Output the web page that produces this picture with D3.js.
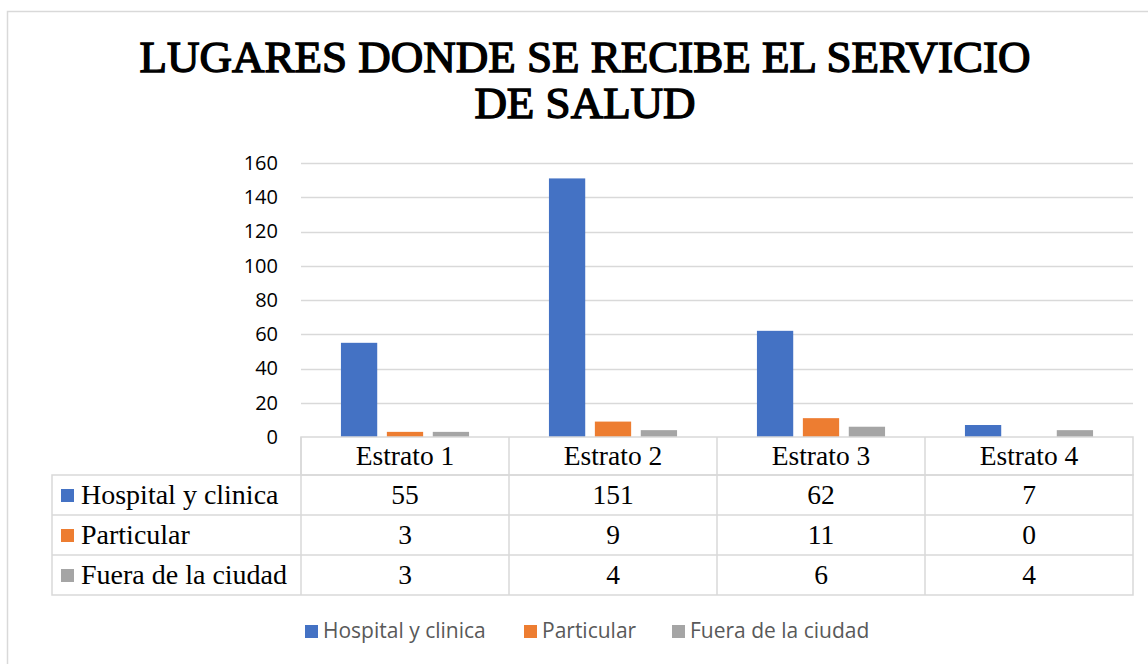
<!DOCTYPE html>
<html>
<head>
<meta charset="utf-8">
<script src="https://d3js.org/d3.v7.min.js"></script>
<style>
  body { margin: 0; background: #fff; }
  svg { display: block; }
</style>
</head>
<body>
<svg width="1148" height="664"></svg>
<script>
// chart data
const categories = ['Estrato 1', 'Estrato 2', 'Estrato 3', 'Estrato 4'];
const seriesNames = ['Hospital y clinica', 'Particular', 'Fuera de la ciudad'];
const hospital = [55, 151, 62, 7];
const particular = [3, 9, 11, 0];
const fuera = [3, 4, 6, 4];
const yTicks = [0, 20, 40, 60, 80, 100, 120, 140, 160];
const colors = ['#4472C4', '#ED7D31', '#A5A5A5'];

const series = [hospital, particular, fuera];

const svg = d3.select('svg');
var serif = '"Liberation Serif", "Times New Roman", serif';
var sans = '"Open Sans", "Liberation Sans", sans-serif';

// outer frame
svg.append('rect')
  .attr('x', 7.5).attr('y', 11.5)
  .attr('width', 1160).attr('height', 700)
  .attr('fill', 'none').attr('stroke', '#d9d9d9').attr('stroke-width', 1.5);

// title (regular serif face emboldened with a stroke)
const title = svg.append('text')
  .attr('text-anchor', 'middle')
  .style('font-family', serif)
  .style('font-size', '43px')
  .attr('fill', '#000')
  .attr('stroke', '#000')
  .attr('stroke-width', 1.4)
  .attr('stroke-linejoin', 'miter');
var t1 = title.append('tspan').attr('x', 585).attr('y', 72).text('LUGARES DONDE SE RECIBE EL SERVICIO');
title.append('tspan').attr('x', 585).attr('y', 118).text('DE SALUD');
var w1 = t1.node().getComputedTextLength();
if (w1 > 0) title.style('font-size', (43 * 890 / w1).toFixed(1) + 'px');

var x0 = d3.scaleBand().domain(categories).range([301, 1133]).paddingInner(0).paddingOuter(0);
var x1 = d3.scaleBand().domain(seriesNames).range([0, x0.bandwidth()]).paddingInner(0.21).paddingOuter(0.87);
var y = d3.scaleLinear().domain([0, 160]).range([437, 163]);

// gridlines
svg.append('g')
  .selectAll('line').data(yTicks.filter(d => d > 0)).enter().append('line')
  .attr('x1', 301).attr('x2', 1133)
  .attr('y1', d => Math.round(y(d)) + 0.5).attr('y2', d => Math.round(y(d)) + 0.5)
  .attr('stroke', '#d9d9d9').attr('stroke-width', 1.3);

// y axis labels
var yAxis = d3.axisLeft(y).tickValues(yTicks).tickSize(0).tickPadding(0);
var ya = svg.append('g').attr('transform', 'translate(278,0)').call(yAxis);
ya.select('.domain').remove();
ya.selectAll('text')
  .style('font-family', sans)
  .style('font-size', '20px')
  .attr('fill', '#000');

// bars
series.forEach(function (vals, si) {
  svg.append('g')
    .selectAll('rect').data(vals).enter().append('rect')
    .attr('x', (d, i) => x0(categories[i]) + x1(seriesNames[si]))
    .attr('y', d => y(d))
    .attr('width', x1.bandwidth())
    .attr('height', d => y(0) - y(d))
    .attr('fill', colors[si]);
});

// data table
var tableTop = 437, headerH = 38, rowH = 40, tableLeft = 52;
var grid = svg.append('g').attr('stroke', '#d9d9d9').attr('stroke-width', 1.5).attr('fill', 'none');
grid.append('rect').attr('x', 301).attr('y', tableTop).attr('width', 832).attr('height', headerH);
grid.append('rect').attr('x', tableLeft).attr('y', tableTop + headerH).attr('width', 1133 - tableLeft).attr('height', rowH * 3);
for (var r = 1; r < 3; r++) {
  grid.append('line').attr('x1', tableLeft).attr('x2', 1133)
    .attr('y1', tableTop + headerH + r * rowH).attr('y2', tableTop + headerH + r * rowH);
}
categories.forEach(function (c) {
  grid.append('line').attr('x1', x0(c)).attr('x2', x0(c))
    .attr('y1', tableTop).attr('y2', tableTop + headerH + rowH * 3);
});

svg.append('g').selectAll('text').data(categories).enter().append('text')
  .attr('x', d => x0(d) + x0.bandwidth() / 2)
  .attr('y', tableTop + 28)
  .attr('text-anchor', 'middle')
  .style('font-family', serif).style('font-size', '27.5px')
  .text(d => d);

series.forEach(function (vals, si) {
  var rowY = tableTop + headerH + si * rowH;
  svg.append('rect').attr('x', 61).attr('y', rowY + 14).attr('width', 13).attr('height', 13).attr('fill', colors[si]);
  svg.append('text').attr('x', 81).attr('y', rowY + 29)
    .style('font-family', serif).style('font-size', '28px')
    .text(seriesNames[si]);
  svg.append('g').selectAll('text').data(vals).enter().append('text')
    .attr('x', (d, i) => x0(categories[i]) + x0.bandwidth() / 2)
    .attr('y', rowY + 29)
    .attr('text-anchor', 'middle')
    .style('font-family', serif).style('font-size', '27.5px')
    .text(d => d);
});

// legend at bottom
var legendX = [305, 524, 672];
var lg = svg.append('g');
seriesNames.forEach(function (name, si) {
  lg.append('rect').attr('x', legendX[si]).attr('y', 625).attr('width', 13).attr('height', 13).attr('fill', colors[si]);
  lg.append('text').attr('x', legendX[si] + 18).attr('y', 638)
    .style('font-family', sans)
    .style('font-size', '21px')
    .attr('fill', '#595959')
    .text(name);
});
</script>
</body>
</html>
